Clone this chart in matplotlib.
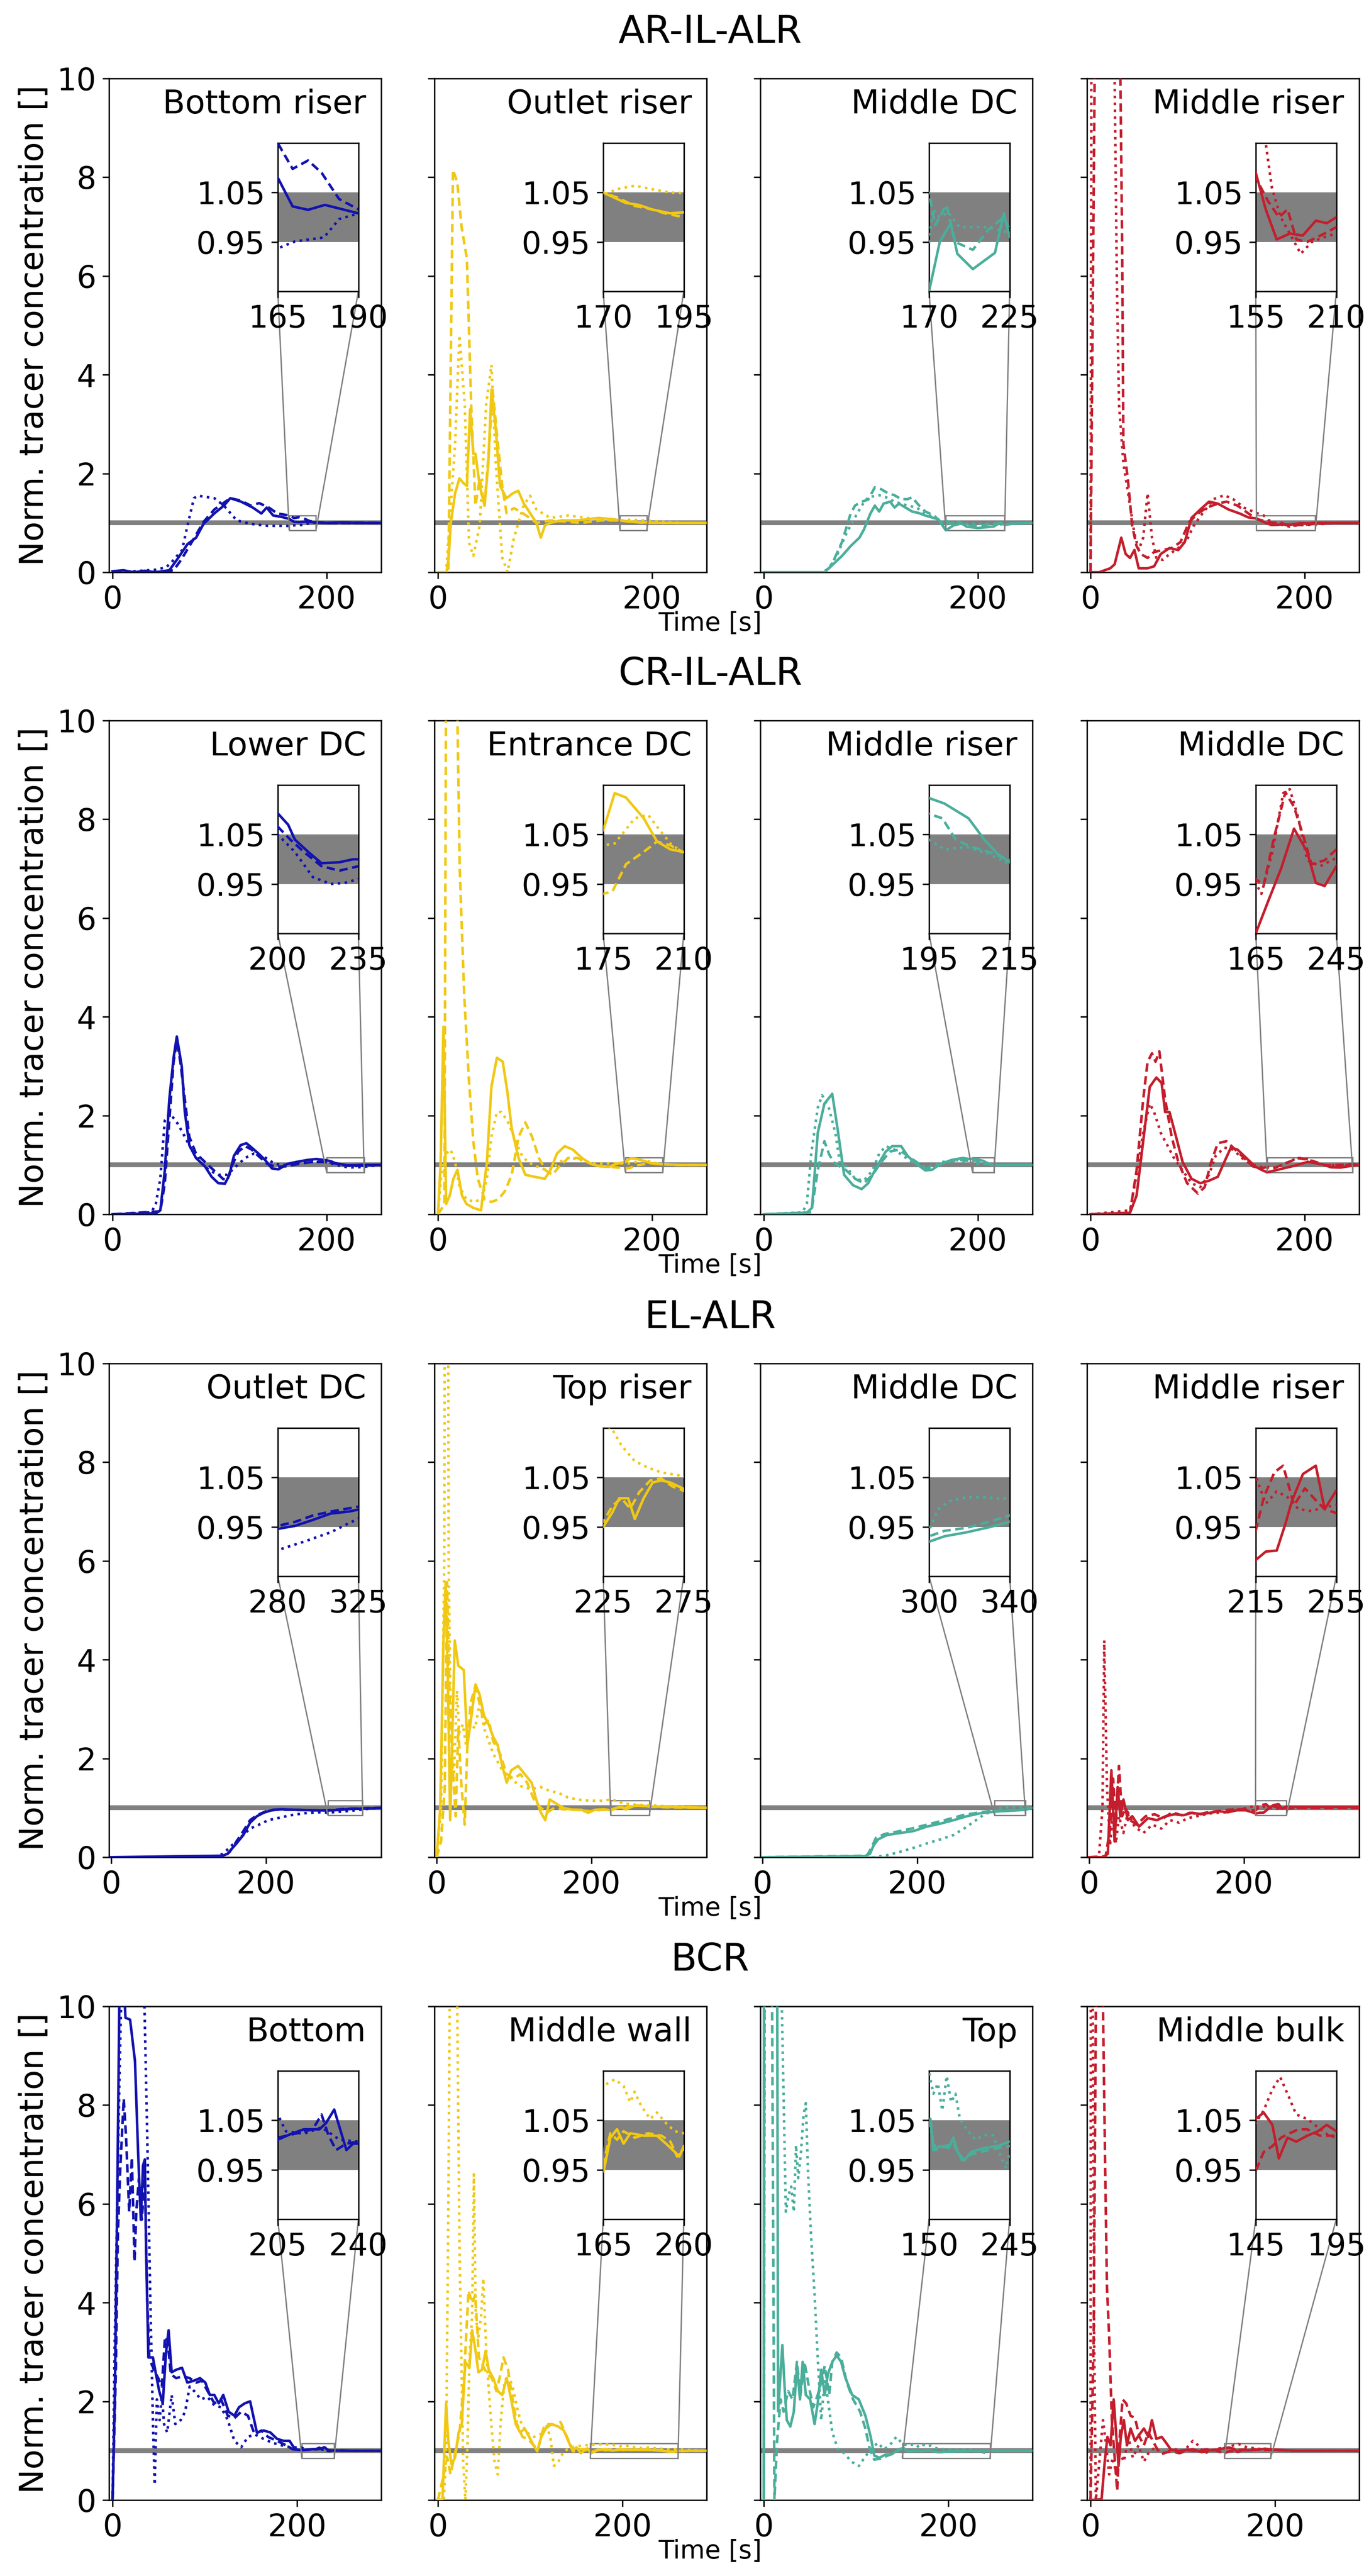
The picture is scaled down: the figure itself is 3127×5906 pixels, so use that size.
import matplotlib
matplotlib.use("Agg")
import matplotlib.pyplot as plt
from mpl_toolkits.axes_grid1.inset_locator import mark_inset

# ---------------- DATA ----------------
row_titles = ["AR-IL-ALR", "CR-IL-ALR", "EL-ALR", "BCR"]
panel_labels = [["Bottom riser", "Outlet riser", "Middle DC", "Middle riser"],
                ["Lower DC", "Entrance DC", "Middle riser", "Middle DC"],
                ["Outlet DC", "Top riser", "Middle DC", "Middle riser"],
                ["Bottom", "Middle wall", "Top", "Middle bulk"]]
zoom_ranges = [[(165, 190), (170, 195), (170, 225), (155, 210)],
               [(200, 235), (175, 210), (195, 215), (165, 245)],
               [(280, 325), (225, 275), (300, 340), (215, 255)],
               [(205, 240), (165, 260), (150, 245), (145, 195)]]
row_xmax = [251, 251, 349, 291]
row_xmin = [-3.3, -3.3, -2.8, -3.8]
xtick_vals = [0, 200]
ytick_vals = [0, 2, 4, 6, 8, 10]
band_low, band_high = 0.95, 1.05
inset_ylim = (0.85, 1.15)

# ---- Row 1: AR-IL-ALR ----
ar1_solid_t = [0, 10, 20, 30, 40, 53, 60, 70, 78, 85, 95, 104, 110, 120, 131, 139, 144, 150, 158, 165, 169.6, 174.4, 179.6, 190, 200, 215, 230, 250]
ar1_solid_y = [0.02, 0.04, 0.0, 0.03, 0.0, 0.04, 0.25, 0.57, 0.7, 0.98, 1.19, 1.35, 1.5, 1.43, 1.31, 1.19, 1.31, 1.15, 1.12, 1.08, 1.022, 1.015, 1.025, 1.008, 1.0, 1.01, 1.0, 1.0]
ar1_dashed_t = [0, 20, 40, 57, 64, 74, 85, 95, 110, 120, 129, 137, 146, 154, 165, 169.6, 174.4, 178.6, 184, 190, 200, 215, 230, 250]
ar1_dashed_y = [0.0, 0.0, 0.0, 0.04, 0.25, 0.61, 1.02, 1.27, 1.5, 1.45, 1.35, 1.4, 1.31, 1.19, 1.15, 1.098, 1.115, 1.09, 1.037, 1.016, 1.0, 1.0, 1.005, 1.0]
ar1_dotted_t = [0, 20, 40, 50, 55, 65, 70, 76, 80, 95, 104, 116, 129, 145, 160, 165, 170.3, 179.3, 184, 190, 200, 220, 250]
ar1_dotted_y = [0.0, 0.02, 0.05, 0.1, 0.2, 0.45, 0.95, 1.5, 1.55, 1.5, 1.35, 1.05, 0.98, 0.94, 0.94, 0.937, 0.951, 0.959, 0.996, 1.008, 1.0, 1.0, 1.0]

ar2_solid_t = [0, 8, 10, 12, 16, 20, 24, 27, 30, 33, 35, 39, 43.5, 47, 50, 54, 58, 64, 70, 75, 80, 86, 92, 96, 100, 105, 115, 130, 150, 165, 170, 177, 181, 185, 190.7, 195, 210, 230, 250]
ar2_solid_y = [0, 0, 0.3, 1.0, 1.6, 1.9, 1.8, 1.75, 3.3, 2.4, 2.4, 1.75, 1.35, 2.2, 3.7, 2.9, 1.75, 1.5, 1.6, 1.65, 1.4, 1.2, 1.0, 0.7, 0.95, 1.0, 1.05, 1.05, 1.1, 1.07, 1.05, 1.029, 1.025, 1.016, 1.008, 1.01, 1.0, 1.0, 1.0]
ar2_dashed_t = [0, 9.7, 14, 18, 22, 27, 31, 35, 39, 43.5, 48, 51, 56, 60, 64, 71, 79, 92, 105, 134, 152, 170, 174.3, 179.8, 185, 189.1, 195, 210, 230, 250]
ar2_dashed_y = [0, 0, 8.15, 7.9, 7.0, 6.35, 3.4, 1.35, 1.9, 1.35, 2.6, 3.7, 2.6, 1.75, 1.2, 1.3, 1.2, 1.0, 1.05, 1.0, 1.05, 1.05, 1.04, 1.023, 1.016, 1.008, 1.0, 1.0, 1.0, 1.0]
ar2_dotted_t = [0, 7.6, 16, 20, 25, 29, 33, 39, 45, 50, 54, 60, 65, 71, 80, 86, 92, 105, 122, 139, 156, 170, 174.3, 179.8, 185, 190.7, 195, 210, 230, 250]
ar2_dotted_y = [0, 0, 2.6, 4.8, 3.4, 0.6, 0.33, 0.95, 3.4, 4.2, 2.2, 0.3, 0.0, 0.7, 1.35, 1.55, 1.27, 1.1, 1.15, 1.1, 1.06, 1.045, 1.057, 1.064, 1.057, 1.05, 1.049, 1.02, 1.0, 1.0]

ar3_solid_t = [0, 56.6, 62.7, 73, 81.1, 89.3, 93.4, 99.6, 103.7, 107.8, 111.9, 118, 122.1, 126.2, 132.4, 138.5, 144.7, 150.8, 157, 163.1, 170, 177.3, 184.8, 189.3, 199.9, 215, 221, 225, 235, 250]
ar3_solid_y = [0, 0.0, 0.12, 0.33, 0.53, 0.7, 0.86, 1.19, 1.35, 1.23, 1.39, 1.43, 1.31, 1.39, 1.31, 1.23, 1.2, 1.15, 1.11, 1.07, 0.85, 0.95, 0.988, 0.926, 0.895, 0.928, 1.008, 0.96, 0.99, 1.0]
ar3_dashed_t = [0, 56, 62.7, 73, 81.1, 85.2, 91.4, 97.5, 103.7, 109.8, 116, 122.1, 128.3, 134.4, 138.5, 144.7, 150.8, 159, 165, 170, 174.2, 181.8, 187.8, 199.9, 210.5, 221, 225, 235, 250]
ar3_dashed_y = [0, 0, 0.12, 0.61, 1.19, 1.35, 1.43, 1.47, 1.72, 1.68, 1.6, 1.56, 1.48, 1.48, 1.52, 1.36, 1.23, 1.15, 1.02, 1.05, 0.984, 1.025, 0.95, 0.934, 0.975, 1.0, 0.976, 0.99, 1.0]
ar3_dotted_t = [0, 55, 60.7, 68.9, 77, 85.2, 91.4, 97.5, 107.8, 114, 122.1, 134.4, 142.6, 150.8, 163.1, 170, 172.7, 177.3, 183, 190.8, 210, 225, 235, 250]
ar3_dotted_y = [0, 0, 0.08, 0.37, 0.78, 1.11, 1.35, 1.52, 1.56, 1.52, 1.43, 1.35, 1.31, 1.19, 1.07, 0.95, 1.016, 1.0, 1.01, 0.98, 0.98, 0.968, 0.99, 1.0]

ar4_solid_t = [0, 8, 18.4, 22.5, 28.7, 32.8, 36.9, 41, 45, 53.3, 59.4, 65.6, 73.8, 82, 88, 94.3, 102.5, 110.7, 118.9, 129, 139.3, 147.5, 155, 161.8, 169.3, 178.2, 187.1, 196, 203.5, 210, 230, 250]
ar4_solid_y = [0, 0, 0.08, 0.16, 0.7, 0.37, 0.29, 0.45, 0.08, 0.08, 0.12, 0.37, 0.49, 0.45, 0.61, 1.1, 1.27, 1.43, 1.39, 1.27, 1.19, 1.11, 1.09, 1.016, 0.955, 0.967, 0.963, 0.993, 0.988, 1.0, 1.0, 1.0]
ar4_dashed_t = [0, 4, 6, 26, 27.9, 29.5, 30.7, 34.8, 38.9, 43, 47, 53.3, 59.4, 67.6, 75.8, 84, 92.2, 100.4, 108.6, 118.9, 127, 137.3, 147.5, 155, 163.3, 170.8, 176.7, 182.7, 190.1, 202, 210, 230, 250]
ar4_dashed_y = [0, 10.5, 25, 25, 10, 6.7, 2.6, 1.9, 0.94, 0.53, 0.37, 0.29, 0.41, 0.45, 0.49, 0.61, 1.02, 1.19, 1.31, 1.39, 1.43, 1.35, 1.19, 1.08, 1.033, 1.0, 1.016, 0.955, 0.95, 0.967, 0.98, 1.0, 1.0]
ar4_dotted_t = [0, 0.8, 2, 21, 22.5, 24.6, 26.6, 30.7, 36.9, 41, 45, 49.2, 53.3, 57.4, 61.5, 67.6, 73.8, 82, 90.2, 96.3, 104.5, 114.8, 125, 133.2, 143.4, 151.6, 155, 161.8, 166, 172, 178.2, 185.7, 193.2, 202, 210, 230, 250]
ar4_dotted_y = [0, 10.5, 25, 25, 10, 5.9, 3.4, 2.2, 1.35, 0.78, 0.45, 0.7, 1.6, 0.7, 0.29, 0.25, 0.37, 0.49, 0.66, 0.94, 1.19, 1.48, 1.56, 1.48, 1.31, 1.23, 1.2, 1.15, 1.06, 1.0, 0.967, 0.926, 0.95, 0.96, 0.967, 1.0, 1.0]

# ---- Row 2: CR-IL-ALR ----
cr1_solid_t = [0, 40.4, 44.6, 48.8, 53, 57, 60, 64.6, 67.5, 71.7, 77.9, 86.3, 92.5, 98.8, 105, 109.2, 113.3, 119.6, 125, 130, 136.3, 142.5, 148.8, 155, 163.3, 171.7, 182, 190.4, 200, 204.5, 207.4, 213.2, 219, 226.8, 232.7, 240, 250]
cr1_solid_y = [0, 0.02, 0.08, 0.89, 2.33, 3.17, 3.6, 3.0, 2.07, 1.4, 1.14, 0.97, 0.76, 0.63, 0.62, 0.8, 1.18, 1.4, 1.44, 1.35, 1.23, 1.1, 0.93, 0.91, 1.02, 1.06, 1.1, 1.12, 1.093, 1.07, 1.04, 1.015, 0.992, 0.994, 1.0, 1.0, 1.0]
cr1_dashed_t = [0, 44.6, 48.8, 53, 57, 60, 63.3, 67.5, 71.7, 77.9, 86.3, 94.6, 103, 107, 111.3, 117.5, 123.8, 130, 136.3, 144.6, 152.9, 161.3, 173.8, 186.3, 196.7, 200, 205.4, 211.3, 219, 226.8, 235, 245, 250]
cr1_dashed_y = [0, 0.06, 0.63, 1.9, 3.09, 3.5, 3.09, 2.33, 1.57, 1.23, 1.06, 0.89, 0.72, 0.68, 0.97, 1.27, 1.38, 1.31, 1.18, 1.02, 0.96, 0.97, 1.02, 1.06, 1.06, 1.066, 1.04, 1.015, 0.986, 0.977, 0.986, 1.0, 1.0]
cr1_dotted_t = [0, 36.3, 40.4, 44.6, 48.8, 53, 57, 61.3, 67.5, 73.8, 82, 90.4, 98.8, 107, 115.4, 123.8, 132, 140.4, 148.8, 157, 169.6, 182, 194.6, 200, 207.4, 215.2, 223, 228.9, 235, 245, 250]
cr1_dotted_y = [0, 0.04, 0.21, 0.72, 1.9, 2.03, 1.95, 1.82, 1.57, 1.31, 1.06, 0.89, 0.8, 0.8, 0.97, 1.14, 1.23, 1.18, 1.06, 0.99, 1.02, 1.06, 1.06, 1.05, 1.015, 0.964, 0.95, 0.952, 0.96, 0.99, 1.0]

cr2_solid_t = [0, 2.5, 5.1, 7.6, 11, 14.4, 18.2, 22.4, 26.6, 33, 40.2, 45.7, 49.9, 55, 60.5, 64.7, 68.9, 75.3, 81.6, 90, 99.8, 104.9, 111.2, 118.4, 126, 134.5, 142.9, 151.4, 159.8, 166.2, 175, 180, 184.9, 192.6, 198.4, 204.2, 209.6, 225, 250]
cr2_solid_y = [0, 1.06, 3.8, 0.21, 0.38, 0.72, 0.9, 0.38, 0.21, 0.13, 0.08, 1.06, 2.58, 3.17, 3.09, 2.5, 1.73, 1.14, 0.8, 0.76, 0.72, 0.89, 1.23, 1.38, 1.31, 1.14, 1.02, 0.97, 0.96, 1.02, 1.059, 1.134, 1.125, 1.083, 1.036, 1.02, 1.015, 1.0, 1.0]
cr2_dashed_t = [0, 6, 9.5, 16, 18.2, 20.3, 24.5, 28.8, 33, 37.2, 43.6, 49.9, 56.2, 62.6, 68.9, 75.3, 81.6, 87.9, 94.3, 100.6, 107, 113.3, 121.8, 130.2, 138.7, 147.1, 155.6, 161.9, 175, 179, 184.9, 192.6, 198.4, 204.2, 209.6, 225, 250]
cr2_dashed_y = [0, 0.2, 25, 25, 10, 7.0, 4.44, 2.75, 1.48, 0.72, 0.3, 0.25, 0.3, 0.47, 0.8, 1.57, 1.86, 1.57, 1.14, 0.89, 0.8, 0.97, 1.14, 1.14, 1.06, 0.99, 0.97, 0.96, 0.93, 0.935, 0.99, 1.015, 1.036, 1.028, 1.015, 1.0, 1.0]
cr2_dotted_t = [0, 3.4, 7.6, 11.8, 16, 20.3, 26.6, 35, 41.4, 45.7, 49.9, 55, 59.2, 64.7, 71, 77.4, 83.7, 92.2, 100.6, 107, 113.3, 121.8, 130.2, 138.7, 147.1, 155.6, 175, 180, 188.7, 194.5, 199.4, 204.2, 209.6, 225, 250]
cr2_dotted_y = [0, 0.89, 1.23, 1.31, 1.06, 0.55, 0.3, 0.25, 0.34, 0.72, 1.57, 2.07, 2.07, 1.9, 1.57, 1.23, 1.06, 0.97, 0.9, 0.93, 1.06, 1.14, 1.12, 1.07, 1.03, 1.03, 1.028, 1.032, 1.083, 1.09, 1.06, 1.032, 1.013, 1.0, 1.0]

cr3_solid_t = [0, 40, 45, 50.4, 56.6, 63.9, 68.9, 75, 83.2, 91.4, 97.5, 105.7, 113.9, 120, 128.3, 134.4, 142.6, 150.8, 157, 165.2, 175.4, 185.7, 191.8, 195, 198.8, 204.8, 208.7, 212, 215, 230, 250]
cr3_solid_y = [0, 0.03, 0.13, 1.65, 2.24, 2.44, 1.73, 0.8, 0.59, 0.51, 0.63, 0.97, 1.27, 1.38, 1.38, 1.18, 1.02, 0.89, 0.9, 1.02, 1.1, 1.14, 1.12, 1.124, 1.113, 1.083, 1.04, 1.011, 0.994, 1.0, 1.0]
cr3_dashed_t = [0, 44.3, 50.4, 56.6, 60.7, 64.8, 70.9, 77, 85.2, 93.4, 101.6, 109.8, 118, 126.2, 134.4, 142.6, 150.8, 159, 171.3, 183.6, 191.8, 195, 198.3, 201.6, 205.5, 209.8, 215, 230, 250]
cr3_dashed_y = [0, 0.04, 0.89, 1.48, 1.23, 1.06, 0.97, 0.89, 0.72, 0.63, 0.8, 1.06, 1.27, 1.31, 1.18, 1.06, 0.93, 0.96, 1.06, 1.1, 1.08, 1.092, 1.083, 1.04, 1.025, 1.015, 0.998, 1.0, 1.0]
cr3_dotted_t = [0, 36, 40.2, 44.3, 50.4, 54.5, 60.7, 66.8, 70.9, 77, 85.2, 93.4, 101.6, 107.8, 113.9, 122.1, 130.3, 138.5, 146.7, 154.9, 167.2, 179.5, 189, 195, 198.8, 204.3, 209.8, 215, 230, 250]
cr3_dotted_y = [0, 0.04, 0.21, 1.23, 2.16, 2.41, 2.16, 1.65, 1.06, 0.97, 0.72, 0.68, 0.89, 1.23, 1.38, 1.31, 1.18, 1.06, 0.97, 0.97, 1.06, 1.1, 1.06, 1.04, 1.02, 1.025, 1.011, 0.99, 1.0, 1.0]

cr4_solid_t = [0, 36.9, 43, 49.2, 55.3, 61.5, 66.4, 69.7, 73.8, 79.9, 86, 94.3, 102.5, 110.7, 118.9, 125, 131.1, 137.3, 145.5, 153.7, 159.8, 165, 177.1, 190.1, 203, 216, 224.7, 233.4, 245, 250]
cr4_solid_y = [0, 0.03, 0.38, 1.48, 2.58, 2.77, 2.66, 2.07, 2.07, 1.57, 1.06, 0.72, 0.63, 0.68, 0.76, 1.06, 1.35, 1.31, 1.14, 0.97, 0.9, 0.85, 0.914, 0.981, 1.062, 1.015, 0.952, 0.946, 0.986, 1.0]
cr4_dashed_t = [0, 36.9, 43, 49.2, 53.3, 57.4, 60.7, 64.3, 69.7, 75.8, 82, 90.2, 100.4, 106.6, 112.7, 118.9, 127, 135.2, 143.4, 151.6, 159.8, 165, 172.8, 183.6, 194.4, 203, 211.8, 220.4, 233.4, 245, 250]
cr4_dashed_y = [0, 0.03, 0.89, 2.33, 3.09, 3.26, 3.09, 3.3, 2.33, 1.57, 1.06, 0.63, 0.42, 0.55, 1.06, 1.44, 1.48, 1.31, 1.14, 0.97, 0.93, 0.96, 0.947, 1.048, 1.136, 1.106, 1.05, 0.99, 0.998, 1.02, 1.0]
cr4_dotted_t = [0, 36.9, 43, 49.2, 55.3, 59.4, 65.6, 71.7, 77.9, 86, 94.3, 102.5, 110.7, 116.8, 125, 133.2, 141.4, 149.6, 157.8, 165, 170.6, 181.5, 192.3, 198.8, 207.4, 216, 229, 245, 250]
cr4_dotted_y = [0, 0.08, 0.8, 1.65, 2.24, 2.07, 1.65, 1.4, 1.14, 0.89, 0.63, 0.55, 0.8, 1.18, 1.35, 1.31, 1.14, 1.02, 0.96, 0.952, 0.93, 1.015, 1.134, 1.142, 1.083, 0.998, 0.986, 1.003, 1.0]

# ---- Row 3: EL-ALR ----
el1_solid_t = [0, 144.4, 150.3, 162, 170.8, 179.5, 188.3, 197, 208.8, 220.5, 238, 261.4, 280, 289.5, 299.5, 309.5, 319.5, 325, 335, 349]
el1_solid_y = [0, 0.03, 0.07, 0.28, 0.45, 0.7, 0.83, 0.9, 0.96, 0.97, 0.96, 0.95, 0.946, 0.952, 0.964, 0.977, 0.981, 0.985, 0.99, 1.0]
el1_dashed_t = [0, 146, 153.2, 162, 170.8, 179.5, 188.3, 200, 214.6, 238, 262, 280, 289.5, 299.5, 309.5, 325, 335, 349]
el1_dashed_y = [0, 0.0, 0.11, 0.32, 0.53, 0.75, 0.85, 0.93, 0.965, 0.96, 0.95, 0.952, 0.96, 0.973, 0.981, 0.991, 0.995, 1.0]
el1_dotted_t = [0, 132.7, 144.4, 156, 167.8, 179.5, 191.2, 203, 214.6, 232, 249.7, 267, 280, 294.5, 309.5, 325, 335, 349]
el1_dotted_y = [0, 0.0, 0.07, 0.24, 0.41, 0.58, 0.66, 0.75, 0.79, 0.85, 0.89, 0.91, 0.903, 0.92, 0.939, 0.967, 0.985, 1.0]

el2_solid_t = [0, 4.7, 8.8, 11.7, 14.6, 17.5, 23.4, 28, 35.1, 39.8, 45, 50.3, 55.6, 61.4, 67.3, 73.1, 78.9, 84.8, 90.6, 96.5, 105.3, 114, 122.8, 128.7, 134.5, 140.4, 146.2, 155, 163.7, 175.4, 187.1, 196, 204.7, 216.4, 225, 230.8, 234.9, 240.5, 244.6, 250.1, 255.7, 261, 266.6, 275, 300, 349]
el2_solid_y = [0, 1.0, 4.39, 5.57, 3.54, 0.75, 4.39, 3.88, 3.79, 2.27, 2.86, 3.5, 3.29, 2.86, 2.69, 2.44, 2.27, 1.85, 1.51, 1.76, 1.85, 1.68, 1.51, 1.17, 0.91, 0.75, 1.17, 1.08, 1.0, 0.96, 0.96, 0.9, 0.96, 0.97, 0.95, 0.98, 1.008, 1.008, 0.966, 1.008, 1.04, 1.044, 1.04, 1.027, 1.02, 1.0]
el2_dashed_t = [0, 5.8, 10.5, 13.5, 16.4, 20.5, 24.6, 28, 32.2, 36.3, 39.8, 43.9, 49.7, 55.6, 61.4, 67.3, 73.1, 81.9, 90.6, 99.4, 108.2, 117, 125.7, 134.5, 143.3, 152, 163.7, 181.3, 198.8, 213.5, 225, 230.8, 236.3, 241.8, 247.3, 254.2, 261, 267.9, 275, 300, 349]
el2_dashed_y = [0, 0.32, 1.42, 5.57, 3.54, 1.85, 0.83, 2.61, 1.42, 0.66, 2.27, 3.12, 3.45, 3.12, 2.69, 2.78, 2.35, 2.1, 1.68, 1.59, 1.68, 1.51, 1.17, 1.0, 0.91, 1.0, 0.97, 0.96, 0.93, 0.96, 0.96, 0.993, 1.008, 0.987, 1.02, 1.044, 1.048, 1.032, 1.023, 1.01, 1.0]
el2_dotted_t = [0, 5.8, 9.9, 12, 13.5, 15.5, 17.5, 22.2, 26.3, 29.2, 33.9, 38, 43.9, 49.7, 55.6, 61.4, 67.3, 73.1, 78.9, 84.8, 93.6, 102.3, 111.1, 122.8, 134.5, 146.2, 157.9, 169.6, 181.3, 193, 210.5, 222.2, 230.2, 236.3, 244.6, 252.9, 261.2, 269.5, 275, 300, 349]
el2_dotted_y = [0, 1.0, 6.08, 25, 25, 6.0, 3.5, 1.59, 3.37, 2.52, 2.69, 2.27, 2.69, 2.61, 3.12, 2.61, 2.35, 2.1, 1.93, 1.76, 1.63, 1.51, 1.42, 1.38, 1.42, 1.34, 1.3, 1.21, 1.17, 1.15, 1.14, 1.16, 1.15, 1.115, 1.083, 1.07, 1.06, 1.056, 1.052, 1.03, 1.0]

el3_solid_t = [0, 132, 139, 143.7, 149.4, 161, 178, 195.4, 212.6, 230, 247, 264.4, 281.6, 293, 300, 307.7, 318.6, 329.5, 340, 349]
el3_solid_y = [0, 0.02, 0.07, 0.24, 0.36, 0.45, 0.49, 0.53, 0.62, 0.68, 0.75, 0.83, 0.89, 0.91, 0.92, 0.931, 0.939, 0.949, 0.96, 1.0]
el3_dashed_t = [0, 135, 140.8, 146.6, 158, 178, 195.4, 212.6, 235.6, 258.6, 281.6, 293, 300, 307.7, 318.6, 329.5, 340, 349]
el3_dashed_y = [0, 0.03, 0.19, 0.39, 0.47, 0.53, 0.59, 0.66, 0.75, 0.85, 0.91, 0.93, 0.931, 0.942, 0.948, 0.96, 0.973, 1.0]
el3_dotted_t = [0, 143.7, 161, 178, 195.4, 212.6, 230, 247, 264.4, 276, 286, 295, 300, 304.4, 309.8, 318.6, 329.5, 336, 340, 349]
el3_dotted_y = [0, 0.0, 0.04, 0.11, 0.19, 0.28, 0.36, 0.45, 0.62, 0.75, 0.86, 0.92, 0.943, 0.985, 1.002, 1.01, 1.01, 1.006, 1.01, 1.0]

el4_solid_t = [0, 18.4, 24.1, 28.7, 32.8, 36.8, 40.2, 44.3, 50, 55.7, 64.4, 75.9, 87.4, 98.9, 110.3, 121.8, 133.3, 144.8, 156.3, 167.8, 179.3, 190.8, 202.3, 211, 215, 220, 225.4, 229.7, 233, 238.4, 244.8, 249.2, 255, 270, 300, 349]
el4_solid_y = [0, 0, 0.07, 1.76, 0.32, 1.42, 0.83, 1.17, 0.75, 0.83, 0.62, 0.79, 0.75, 0.83, 0.87, 0.85, 0.9, 0.87, 0.9, 0.93, 0.91, 0.95, 0.95, 0.91, 0.883, 0.9, 0.902, 0.956, 1.003, 1.057, 1.074, 0.986, 1.024, 1.02, 1.02, 1.02]
el4_dashed_t = [0, 21.3, 27, 31, 34.5, 38.5, 42.5, 47.1, 52.9, 61.5, 73, 84.5, 96, 107.5, 119, 130.5, 142, 153.4, 164.9, 179.3, 193.7, 208, 215, 219, 224.3, 228.6, 234, 239.4, 245, 249.2, 255, 270, 349]
el4_dashed_y = [0, 0.02, 0.58, 1.59, 0.66, 1.85, 0.83, 1.0, 0.75, 0.66, 0.83, 0.87, 0.79, 0.91, 0.85, 0.9, 0.87, 0.91, 0.93, 0.96, 0.97, 0.96, 0.943, 1.01, 1.061, 1.074, 0.994, 1.028, 1.003, 0.986, 0.978, 1.0, 1.0]
el4_dotted_t = [0, 12.6, 17.2, 19.5, 23, 27, 31, 34.5, 38.5, 44.3, 50, 58.6, 70.1, 81.6, 93.1, 104.6, 116.1, 127.6, 139, 150.6, 162, 176.4, 190.8, 205.2, 213.8, 215, 220, 225.4, 230.8, 236.2, 242.7, 249.2, 255, 300, 349]
el4_dotted_y = [0, 0, 1.0, 4.39, 1.42, 0.24, 1.0, 0.28, 0.83, 0.49, 0.91, 0.62, 0.49, 0.66, 0.58, 0.75, 0.7, 0.79, 0.83, 0.87, 0.9, 0.91, 0.96, 1.0, 1.04, 1.052, 0.997, 1.022, 1.01, 0.986, 0.982, 0.99, 0.994, 1.0, 1.0]

# ---- Row 4: BCR ----
bcr1_solid_t = [0, 2.4, 4.9, 7.3, 9, 12, 14, 19, 24.3, 27.7, 30.6, 33, 35, 36.4, 38.8, 43.7, 47, 50.5, 54.4, 57.8, 60.7, 64, 68.9, 75.2, 81, 88.3, 94.7, 100.5, 105.3, 110.2, 115, 119.9, 125.7, 132, 136.9, 143.2, 149, 156.3, 163.6, 170.9, 178.2, 185.4, 191.7, 197.6, 205, 210.4, 216.3, 223.1, 226, 229.5, 234.8, 237.7, 240, 260, 291]
bcr1_solid_y = [0, 2.04, 5.84, 10, 11, 10.5, 9.77, 9.73, 8.89, 7.03, 5.68, 6.78, 6.9, 5.0, 2.89, 2.89, 2.55, 2.21, 1.96, 2.97, 3.44, 2.59, 2.64, 2.68, 2.38, 2.42, 2.47, 2.38, 2.13, 2.13, 1.96, 2.13, 1.79, 1.71, 1.88, 1.96, 2.0, 1.37, 1.41, 1.37, 1.24, 1.2, 1.2, 1.03, 1.011, 1.022, 1.032, 1.032, 1.045, 1.072, 0.99, 1.003, 1.003, 1.0, 1.0]
bcr1_dashed_t = [0, 3.4, 5.8, 8.3, 12.1, 14.6, 18, 20.9, 23.8, 25.7, 28.6, 31.6, 35, 37.4, 39.8, 44.7, 49.5, 53.4, 56.8, 59.7, 63.1, 68.9, 76.2, 83.5, 90.8, 96.6, 102.9, 110.2, 117.5, 124.8, 132, 139.3, 146.6, 153.9, 161.2, 168.4, 178.2, 187.9, 195.1, 205, 212.4, 220.2, 224, 227, 230.3, 234.8, 240, 260, 291]
bcr1_dashed_y = [0, 2.47, 5.42, 6.69, 8.13, 7.36, 5.84, 6.94, 4.83, 5.84, 6.52, 5.68, 6.52, 4.16, 2.89, 2.64, 2.47, 2.3, 3.31, 3.23, 2.55, 2.47, 2.51, 2.47, 2.38, 2.42, 2.21, 1.96, 2.04, 1.71, 1.66, 1.79, 1.71, 1.33, 1.41, 1.28, 1.2, 1.11, 1.03, 1.015, 1.023, 1.032, 1.062, 1.02, 0.99, 1.003, 1.007, 1.0, 1.0]
bcr1_dotted_t = [0, 2.4, 4.9, 7.3, 9.2, 11, 30, 34, 37.4, 40.8, 43.7, 45.6, 48, 51, 53.4, 55.8, 59.2, 64, 68, 73.8, 78.6, 83.5, 88.3, 95.6, 102.9, 110.2, 117.5, 124.8, 132, 139.3, 146.6, 153.9, 163.6, 173.3, 183, 192.7, 205, 208.5, 216.3, 224, 231.8, 240, 260, 291]
bcr1_dotted_y = [0, 3.31, 5.84, 8.38, 10, 25, 25, 10.5, 7.53, 4.16, 1.62, 0.31, 2.04, 1.62, 2.13, 1.54, 1.37, 2.13, 1.54, 1.62, 1.79, 2.3, 2.21, 2.04, 2.09, 1.92, 1.88, 1.62, 1.2, 1.07, 1.28, 1.33, 1.24, 1.16, 1.11, 1.07, 1.062, 1.028, 1.023, 1.036, 1.011, 1.007, 1.0, 1.0]

bcr2_solid_t = [0, 4.9, 8.8, 11.2, 14.6, 18.5, 22.4, 25.8, 29.7, 34.1, 37, 40.4, 43.8, 47.7, 51.6, 55, 59.9, 64.7, 69.6, 74.5, 79.3, 84.2, 89.1, 93.9, 98.8, 103.6, 107.5, 111.9, 116.8, 123.1, 130.4, 136.3, 141.1, 146, 149.9, 154.7, 162, 165.5, 173.4, 181.3, 189, 197, 212.8, 228.5, 239, 249.5, 254.8, 260, 275, 291]
bcr2_solid_y = [0, 0.02, 1.96, 1.2, 0.73, 0.86, 1.37, 1.54, 2.8, 2.68, 3.44, 3.06, 2.59, 2.64, 3.02, 2.64, 2.47, 2.21, 2.13, 2.47, 2.04, 1.54, 1.37, 1.45, 1.28, 1.11, 0.99, 1.28, 1.45, 1.54, 1.49, 1.41, 1.2, 0.99, 1.07, 0.95, 1.05, 0.947, 1.015, 1.032, 1.003, 1.024, 1.019, 1.019, 1.003, 0.986, 0.977, 0.998, 1.0, 1.0]
bcr2_dashed_t = [0, 6.3, 10.2, 13.6, 18.5, 23.4, 28.2, 33.1, 37, 40.4, 44.3, 48.7, 53.5, 58.4, 63.3, 67.2, 71, 75.9, 80.8, 85.6, 91.5, 97.3, 103.6, 108.5, 113.4, 119.7, 126.5, 132.8, 137.7, 142.6, 147.4, 154.7, 160, 165, 173.4, 181.3, 189, 202.2, 218, 233.8, 244.3, 252.1, 260, 275, 291]
bcr2_dashed_y = [0, 0.52, 0.86, 0.52, 0.95, 1.37, 2.47, 4.24, 3.99, 4.16, 2.89, 2.72, 2.55, 2.47, 2.21, 2.51, 2.89, 2.64, 2.04, 1.54, 1.28, 1.24, 1.11, 1.03, 1.41, 1.54, 1.52, 1.58, 1.37, 1.16, 0.99, 1.03, 1.03, 0.96, 1.024, 1.011, 1.028, 1.015, 1.024, 1.019, 1.007, 0.977, 0.99, 1.0, 1.0]
bcr2_dotted_t = [0, 6.3, 8.8, 11.2, 12.7, 14, 19, 20.9, 23.4, 27.3, 29.7, 32.1, 34.1, 37, 38.9, 40.9, 43.8, 46.7, 49.1, 52.6, 57.4, 61.3, 64.7, 68.1, 72, 75.9, 80.8, 85.6, 90.5, 96.4, 103.6, 110.9, 116.8, 121.7, 125.5, 130.4, 136.3, 145, 154.7, 165, 178.6, 189, 196.9, 202, 209.9, 220.4, 228.3, 238.8, 249.3, 260, 275, 291]
bcr2_dotted_y = [0, 0, 0.86, 5.84, 10, 25, 25, 10, 5.0, 0.78, 0, 1.2, 2.89, 3.73, 6.6, 3.73, 3.31, 3.73, 4.49, 2.89, 1.62, 0.78, 0.52, 1.62, 2.38, 2.55, 2.3, 1.88, 1.54, 1.37, 1.28, 1.33, 1.54, 1.28, 0.69, 0.78, 0.99, 1.07, 1.1, 1.12, 1.133, 1.12, 1.087, 1.108, 1.079, 1.053, 1.066, 1.045, 1.028, 1.024, 1.01, 1.0]

bcr3_solid_t = [0, 0.5, 13, 14.5, 15.5, 20.1, 22.5, 24.9, 28.7, 32.5, 35.9, 39.2, 42.1, 45.5, 50.2, 55, 58.4, 62.2, 66, 69.4, 74.2, 78.9, 83.7, 88.5, 95.7, 102.9, 110, 115.8, 119.6, 125.4, 131.6, 138.8, 145.9, 151.6, 155.2, 163, 173.4, 178.6, 183.7, 191.5, 199.3, 215, 230.5, 245, 270, 291]
bcr3_solid_y = [0, 25, 25, 10.5, 1.8, 3.14, 2.3, 1.62, 1.49, 1.79, 2.72, 2.04, 2.8, 2.13, 2.04, 1.54, 1.96, 2.64, 2.13, 2.55, 2.8, 2.93, 2.8, 2.47, 2.13, 2.04, 1.71, 1.28, 0.9, 0.86, 0.92, 0.93, 1.03, 1.053, 0.99, 0.998, 0.994, 1.015, 0.986, 0.969, 0.986, 0.994, 0.998, 1.007, 1.0, 1.0]
bcr3_dashed_t = [0, 2, 7, 9, 11.5, 14.4, 18.2, 21.5, 26.3, 31.1, 35.9, 39.7, 44, 48.8, 53.6, 58.4, 62.2, 66, 70.8, 74.2, 78.9, 83.7, 89.9, 96.7, 104.3, 110, 114.8, 119.6, 126.8, 134, 141.1, 150, 157.8, 168.2, 178.6, 189, 199.3, 220.1, 245, 270, 291]
bcr3_dashed_y = [0, 25, 25, 10, 0, 1.2, 2.04, 1.79, 2.21, 2.04, 2.8, 2.13, 2.8, 2.3, 1.88, 2.13, 2.38, 2.72, 2.13, 2.8, 2.99, 2.89, 2.38, 2.04, 1.79, 1.45, 1.03, 0.82, 0.84, 0.9, 0.95, 1.045, 0.99, 0.998, 1.003, 0.969, 0.981, 0.99, 0.998, 1.0, 1.0]
bcr3_dotted_t = [0, 2.5, 17, 19, 23.9, 26.8, 29.7, 32.5, 34.9, 37.3, 40.2, 43, 45.5, 47.8, 51.2, 55, 58.4, 62.2, 66, 69.4, 74.2, 80.4, 87.1, 94.7, 102.9, 109.1, 115.8, 123.4, 130.1, 136.4, 143.5, 150, 155.2, 160.4, 165.6, 170.8, 176, 181.2, 186.4, 194.2, 204.5, 214.9, 225.3, 235.7, 240.9, 245, 270, 291]
bcr3_dotted_y = [0, 25, 25, 10.5, 5.84, 6.18, 6.35, 5.84, 7.19, 6.52, 7.03, 7.79, 8.04, 6.69, 5.34, 4.16, 2.89, 1.62, 2.47, 2.04, 1.37, 1.03, 0.95, 0.78, 0.69, 0.86, 1.03, 1.16, 1.03, 1.11, 1.28, 1.147, 1.104, 1.125, 1.07, 1.14, 1.087, 1.104, 1.053, 1.032, 1.011, 1.02, 1.02, 0.973, 0.953, 0.986, 1.0, 1.0]

bcr4_solid_t = [0, 12, 15.4, 18.3, 21.7, 25.1, 28, 30.4, 32.8, 36.1, 39.5, 43.4, 48.2, 53, 57.8, 62.7, 66.5, 71.3, 77.1, 81.9, 86.7, 94, 101.2, 110.8, 120.5, 130.1, 139.8, 145, 149.9, 155.3, 159.3, 164.7, 170.1, 176.9, 183.6, 189, 195, 220, 291]
bcr4_solid_y = [0, 0.02, 0.78, 1.28, 1.11, 2.04, 1.28, 0.69, 1.28, 1.62, 1.11, 1.45, 1.2, 1.33, 1.45, 1.28, 1.62, 1.24, 1.28, 1.16, 1.03, 0.99, 1.01, 1.03, 0.97, 1.01, 1.03, 1.053, 1.066, 1.041, 0.973, 1.015, 1.007, 1.019, 1.028, 1.041, 1.028, 1.0, 1.0]
bcr4_dashed_t = [0, 3.4, 5.8, 7, 12, 13.5, 15.9, 17.8, 20.2, 23.1, 26.5, 28.9, 31.3, 34.7, 38.6, 43.4, 48.2, 53, 57.8, 62.7, 67.5, 72.3, 79.5, 86.7, 96.4, 106, 115.7, 125.3, 135, 145, 149.9, 155.3, 160.7, 166.1, 171.5, 176.9, 185, 195, 220, 291]
bcr4_dashed_y = [0, 3.31, 10, 25, 25, 10, 6.69, 4.32, 3.31, 1.62, 0.78, 0.19, 1.2, 2.04, 1.96, 1.71, 1.66, 1.28, 1.11, 1.37, 1.2, 1.03, 0.95, 0.99, 0.95, 1.01, 0.99, 1.03, 1.01, 0.948, 0.986, 0.998, 1.015, 1.024, 1.032, 1.032, 1.019, 1.019, 1.0, 1.0]
bcr4_dotted_t = [0, 0.8, 2, 2.4, 3.9, 5.8, 9.6, 13.5, 16.9, 20.2, 24.1, 28, 31.8, 36.1, 41, 45.8, 52, 57.8, 62.7, 69.9, 77.1, 84.3, 91.6, 101.2, 110.8, 116.6, 122.9, 130.1, 139.8, 145, 149.9, 155.3, 160.1, 164.7, 170.1, 176.9, 183.6, 190.4, 195, 220, 291]
bcr4_dotted_y = [0, 25, 25, 10, 3.31, 0, 0.78, 1.62, 1.11, 0.52, 0.86, 0.52, 0.95, 0.78, 1.28, 0.86, 1.11, 0.78, 0.95, 1.07, 0.93, 0.99, 1.03, 0.99, 1.2, 1.11, 0.95, 0.99, 1.05, 1.045, 1.07, 1.113, 1.138, 1.104, 1.062, 1.053, 1.036, 1.019, 1.015, 1.0, 1.0]

# ---------------- STYLE / LAYOUT ----------------
col_colors = ["#1212b0", "#f0c814", "#4aae9b", "#c41e2d"]
LS_SOLID = "-"
LS_DASHED = (0, (3.3, 1.8))
LS_DOTTED = (0, (1.0, 1.7))
LW = 1.4

panels = [
    [(ar1_solid_t, ar1_solid_y, ar1_dashed_t, ar1_dashed_y, ar1_dotted_t, ar1_dotted_y),
     (ar2_solid_t, ar2_solid_y, ar2_dashed_t, ar2_dashed_y, ar2_dotted_t, ar2_dotted_y),
     (ar3_solid_t, ar3_solid_y, ar3_dashed_t, ar3_dashed_y, ar3_dotted_t, ar3_dotted_y),
     (ar4_solid_t, ar4_solid_y, ar4_dashed_t, ar4_dashed_y, ar4_dotted_t, ar4_dotted_y)],
    [(cr1_solid_t, cr1_solid_y, cr1_dashed_t, cr1_dashed_y, cr1_dotted_t, cr1_dotted_y),
     (cr2_solid_t, cr2_solid_y, cr2_dashed_t, cr2_dashed_y, cr2_dotted_t, cr2_dotted_y),
     (cr3_solid_t, cr3_solid_y, cr3_dashed_t, cr3_dashed_y, cr3_dotted_t, cr3_dotted_y),
     (cr4_solid_t, cr4_solid_y, cr4_dashed_t, cr4_dashed_y, cr4_dotted_t, cr4_dotted_y)],
    [(el1_solid_t, el1_solid_y, el1_dashed_t, el1_dashed_y, el1_dotted_t, el1_dotted_y),
     (el2_solid_t, el2_solid_y, el2_dashed_t, el2_dashed_y, el2_dotted_t, el2_dotted_y),
     (el3_solid_t, el3_solid_y, el3_dashed_t, el3_dashed_y, el3_dotted_t, el3_dotted_y),
     (el4_solid_t, el4_solid_y, el4_dashed_t, el4_dashed_y, el4_dotted_t, el4_dotted_y)],
    [(bcr1_solid_t, bcr1_solid_y, bcr1_dashed_t, bcr1_dashed_y, bcr1_dotted_t, bcr1_dotted_y),
     (bcr2_solid_t, bcr2_solid_y, bcr2_dashed_t, bcr2_dashed_y, bcr2_dotted_t, bcr2_dotted_y),
     (bcr3_solid_t, bcr3_solid_y, bcr3_dashed_t, bcr3_dashed_y, bcr3_dotted_t, bcr3_dotted_y),
     (bcr4_solid_t, bcr4_solid_y, bcr4_dashed_t, bcr4_dashed_y, bcr4_dotted_t, bcr4_dotted_y)],
]

plt.rcParams["font.family"] = ["DejaVu Sans"]
plt.rcParams["font.size"] = 18

W, H, DPI = 3128, 5906, 300
fig = plt.figure(figsize=(W / DPI, H / DPI), dpi=DPI)

ax_lefts = [250, 996, 1743, 2492]
ax_w = 624
row_tops = [180, 1652, 3126, 4600]
ax_h = 1132


def frac(x, ytop, w, h):
    return [x / W, 1 - (ytop + h) / H, w / W, h / H]


def draw_lines(a, data, color):
    st, sy, dt, dy, ot, oy = data
    a.plot(st, sy, color=color, lw=LW, linestyle=LS_SOLID, zorder=3)
    a.plot(dt, dy, color=color, lw=LW, linestyle=LS_DASHED, zorder=3)
    a.plot(ot, oy, color=color, lw=LW, linestyle=LS_DOTTED, zorder=3)


for r in range(4):
    top = row_tops[r]
    for c in range(4):
        ax = fig.add_axes(frac(ax_lefts[c], top, ax_w, ax_h))
        color = col_colors[c]
        ax.axhspan(band_low, band_high, color="#808080", lw=0, zorder=1)
        draw_lines(ax, panels[r][c], color)
        ax.set_xlim(row_xmin[r], row_xmax[r])
        ax.set_ylim(0, 10)
        ax.set_xticks(xtick_vals)
        ax.set_yticks(ytick_vals)
        ax.tick_params(labelsize=17)
        if c == 0:
            ax.set_ylabel("Norm. tracer concentration []", fontsize=18)
        else:
            ax.set_yticklabels([])
        ax.text(0.945, 0.98, panel_labels[r][c], transform=ax.transAxes,
                ha="right", va="top", fontsize=18, zorder=6)

        axins = ax.inset_axes([0.62, 0.569, 0.296, 0.30])
        axins.axhspan(band_low, band_high, color="#808080", lw=0, zorder=1)
        draw_lines(axins, panels[r][c], color)
        z0, z1 = zoom_ranges[r][c]
        axins.set_xlim(z0, z1)
        axins.set_ylim(*inset_ylim)
        axins.set_xticks([z0, z1])
        axins.set_yticks([band_low, band_high])
        axins.set_yticklabels(["0.95", "1.05"])
        axins.tick_params(labelsize=17)
        mark_inset(ax, axins, loc1=3, loc2=4, fc="none", ec="0.5", lw=0.75)

    bottom = top + ax_h
    fig.text(0.5205, 1 - (top - 106) / H, row_titles[r], ha="center", va="center", fontsize=21)
    fig.text(0.5205, 1 - (bottom + 118) / H, "Time [s]", ha="center", va="center", fontsize=14)

fig.savefig("out.png", dpi=DPI)
